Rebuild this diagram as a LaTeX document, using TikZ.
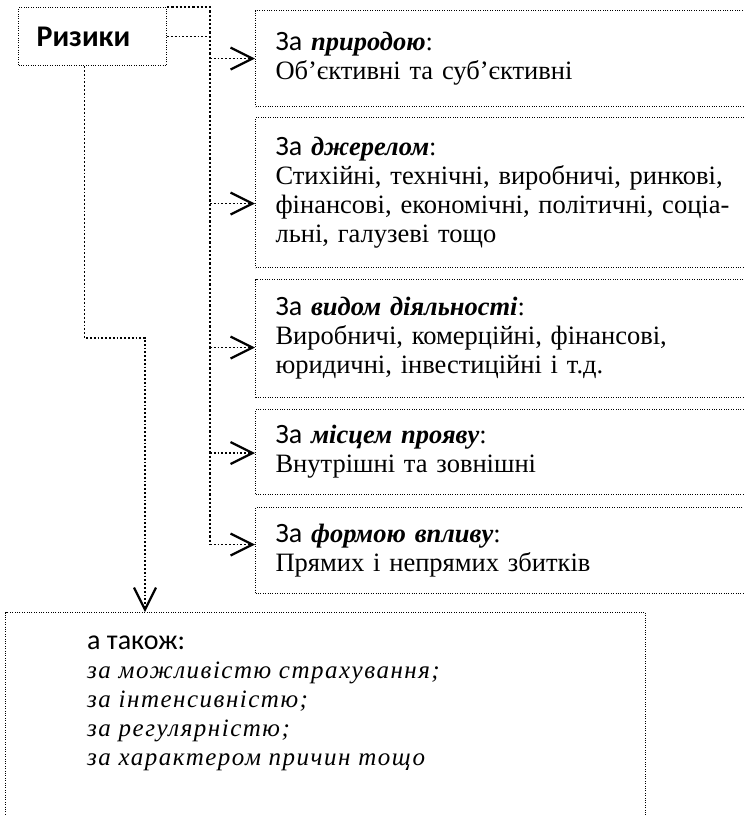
\documentclass[tikz,border=0pt]{standalone}
\usepackage{fontspec}
\setmainfont{Liberation Serif}
\newfontfamily\carlito{Carlito}
\newfontfamily\listfont[LetterSpace=6]{Liberation Serif}
\usetikzlibrary{arrows.meta}

\begin{document}
\begin{tikzpicture}[x=1pt,y=-1pt,
  frame/.style={draw,dash pattern=on 1pt off 1.4pt,line width=1.1pt,anchor=north west,inner sep=0pt},
  kind/.style={frame,inner xsep=20pt,text width=470pt,align=left,font=\fontsize{26.5}{29}\selectfont},
  lead/.style={font=\carlito\fontsize{28}{29}\selectfont},
  link/.style={draw,dotted,line width=1.8pt},
  feed/.style={link,-{Straight Barb[length=22pt,width=22pt,line width=2.2pt]}}]
\useasboundingbox (0,0) rectangle (744,815);
\clip (0,0) rectangle (744,815);

% head box
\node[frame,minimum width=148pt,minimum height=58pt,inner xsep=18pt,text width=112pt,align=left,
      font=\carlito\fontsize{30}{32}\selectfont\bfseries] (risks) at (18,7) {Ризики};

% classification boxes
\node[kind,minimum height=96pt] (nature) at (255,10)
  {{\carlito\fontsize{28}{29}\selectfont За} \textbf{\textit{природою}}:\\Об’єктивні та суб’єктивні};
\node[kind,minimum height=150pt] (source) at (255,117)
  {{\carlito\fontsize{28}{29}\selectfont За} \textbf{\textit{джерелом}}:\\Стихійні, технічні, виробничі, ринкові,\\
   фінансові, економічні, політичні, соціа-\\льні, галузеві тощо};
\node[kind,minimum height=118pt] (activity) at (255,279)
  {{\carlito\fontsize{28}{29}\selectfont За} \textbf{\textit{видом діяльності}}:\\Виробничі, комерційні, фінансові,\\
   юридичні, інвестиційні і т.д.};
\node[kind,minimum height=85pt] (place) at (255,409)
  {{\carlito\fontsize{28}{29}\selectfont За} \textbf{\textit{місцем прояву}}:\\Внутрішні та зовнішні};
\node[kind,minimum height=86pt] (manner) at (255,507)
  {{\carlito\fontsize{28}{29}\selectfont За} \textbf{\textit{формою впливу}}:\\Прямих і непрямих збитків};

% other criteria
\node[frame,minimum width=640pt,minimum height=230pt] (extra) at (5,612) {};
\node[anchor=north west,inner sep=0pt,align=left,font=\listfont\fontsize{25}{29}\selectfont\itshape] (extratext) at (87,636)
  {{\carlito\upshape\fontsize{28}{29}\selectfont а також:}\\за можливістю страхування;\\за інтенсивністю;\\
   за регулярністю;\\за характером причин тощо};

% connectors
\coordinate (spine) at (210,7);
\coordinate (inNature) at (nature.west);
\coordinate (inSource) at ([yshift=-11pt]source.west);
\coordinate (inActivity) at ([yshift=-9pt]activity.west);
\coordinate (inPlace) at ([yshift=-1pt]place.west);
\coordinate (inManner) at ([yshift=6pt]manner.west);
\coordinate (bend) at (145,338);

\draw[link,line width=2.2pt] (risks.north east) -- (spine) -- (spine |- inManner);
\draw[link] (risks.east) -- (spine |- risks.east);
\draw[feed] (spine |- inNature) -- (inNature);
\draw[feed] (spine |- inSource) -- (inSource);
\draw[feed] (spine |- inActivity) -- (inActivity);
\draw[feed] (spine |- inPlace) -- (inPlace);
\draw[feed] (spine |- inManner) -- (inManner);
\draw[feed] ([xshift=-8pt]risks.south) |- (bend) -- (bend |- extra.north);
\end{tikzpicture}
\end{document}
